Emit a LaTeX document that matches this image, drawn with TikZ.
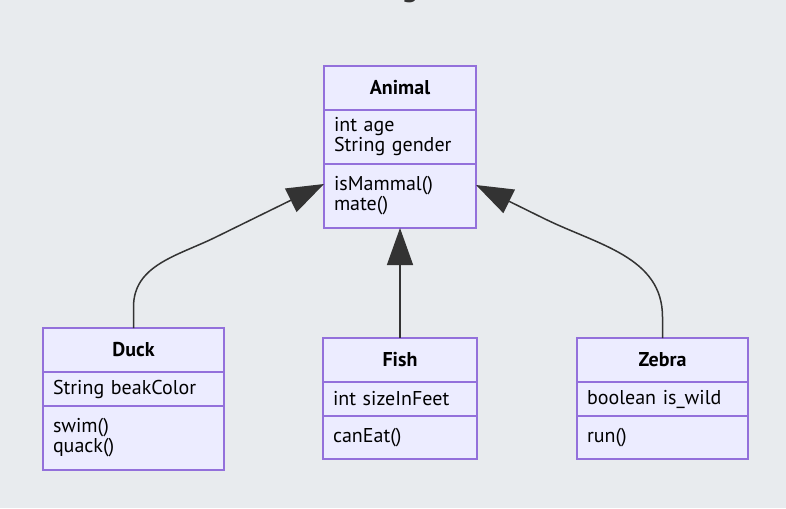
\documentclass[tikz,border=0pt]{standalone}
\usepackage{fontspec}
\setmainfont{PT Sans}
\usetikzlibrary{arrows.meta}
\usetikzlibrary{positioning}
\definecolor{umlfill}{HTML}{ECECFF}
\definecolor{umlline}{HTML}{9370DB}
\definecolor{edgegray}{HTML}{333333}
\definecolor{canvas}{HTML}{E8EBEE}
\newcommand{\umlfont}{\fontsize{20}{20}\selectfont}
\tikzset{>={Triangle[length=37pt,width=26pt]}}
\tikzstyle{classname} = [draw=umlline, fill=umlfill, line width=1.5pt,
    outer sep=0pt, minimum height=44pt, font=\umlfont\bfseries]
\tikzstyle{members} = [draw=umlline, fill=umlfill, line width=1.5pt,
    outer sep=0pt, align=left, inner xsep=10pt, inner ysep=2pt, font=\umlfont]
\tikzstyle{inherit} = [->, draw=edgegray, line width=1.5pt]

\begin{document}
\begin{tikzpicture}[x=1pt,y=1pt]
    \useasboundingbox[fill=canvas] (0,0) rectangle (786,-508);
    %title (cut off)
    \node[font=\fontsize{30}{34}\selectfont\bfseries, anchor=base, text=edgegray] (title) at (410,3) {g};
    %parent class
    \node[classname, minimum width=152pt] (animal) at (400,-88) {Animal};
    \node[members, text width=132pt, minimum height=54pt, below=0pt of animal] (animalattr) {int age\\String gender};
    \node[members, text width=132pt, minimum height=64pt, below=0pt of animalattr] (animalops) {isMammal()\\mate()};
    %child classes
    \node[classname, minimum width=181pt] (duck) at (133.5,-350) {Duck};
    \node[members, text width=161pt, minimum height=34pt, below=0pt of duck] (duckattr) {String beakColor};
    \node[members, text width=161pt, minimum height=64pt, below=0pt of duckattr] (duckops) {swim()\\quack()};
    \node[classname, minimum width=154pt] (fish) at (400,-360) {Fish};
    \node[members, text width=134pt, minimum height=34pt, below=0pt of fish] (fishattr) {int sizeInFeet};
    \node[members, text width=134pt, minimum height=43pt, below=0pt of fishattr] (fishops) {canEat()};
    \node[classname, minimum width=171pt] (zebra) at (662.5,-360) {Zebra};
    \node[members, text width=151pt, minimum height=34pt, below=0pt of zebra] (zebraattr) {boolean is\_wild};
    \node[members, text width=151pt, minimum height=43pt, below=0pt of zebraattr] (zebraops) {run()};
    %inheritance
    \draw[inherit] (duck.north) -- ++(0,21) to[out=90,in=206] ++(81.5,69.5) -- ([yshift=12pt]animalops.west);
    \draw[inherit] (fish.north) -- (animalops.south);
    \draw[inherit] (zebra.north) -- ++(0,21) to[out=90,in=-26] ++(-117.5,98) -- ([yshift=11pt]animalops.east);
\end{tikzpicture}
\end{document}
